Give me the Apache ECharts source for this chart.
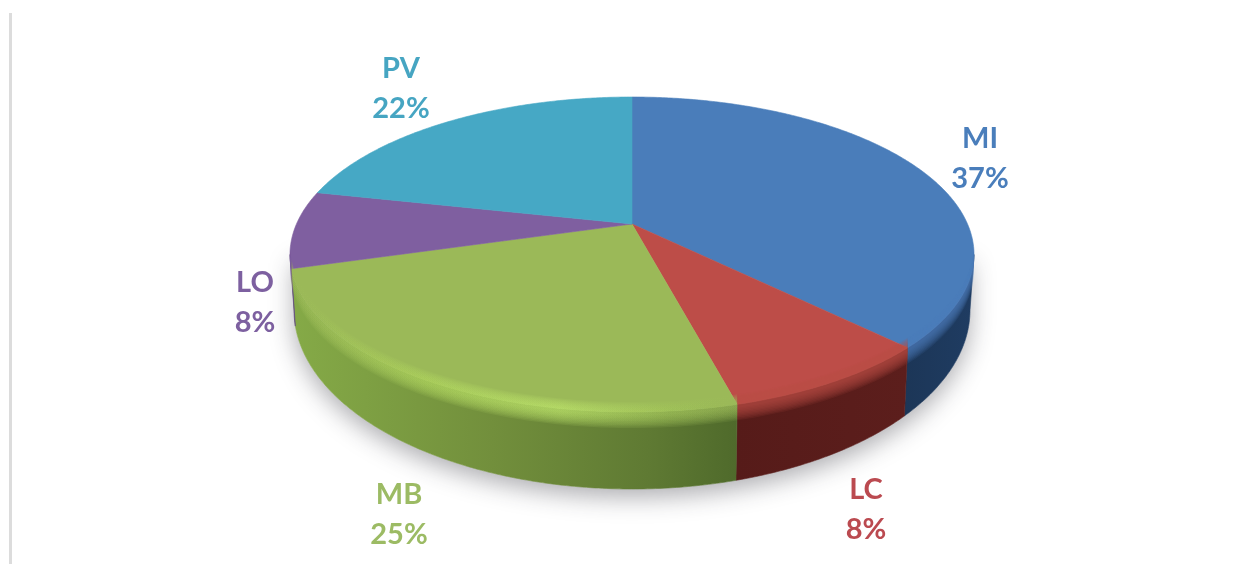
<!DOCTYPE html>
<html>
<head>
<meta charset="utf-8">
<style>
html, body { margin: 0; padding: 0; background: #fff; }
#chart { width: 1244px; height: 564px; }
</style>
<script src="https://cdn.jsdelivr.net/npm/echarts@6/dist/echarts.min.js"></script>
</head>
<body>
<div id="chart"></div>
<script>
// slices, clockwise from 12 o'clock
var names = ['MI', 'LC', 'MB', 'LO', 'PV'];
var shares = [37.45, 8.45, 24.6, 7.95, 21.55];
var topColors = ['#4a7dba', '#bd4d48', '#9bb958', '#7f5fa0', '#46a8c5'];
var textColors = ['#4a7ebb', '#bb4a50', '#9cbb64', '#7d60a0', '#46a5c2'];

// layout
var CX = 632, APEX_Y = 224;
var TOP_Y = 97, FRONT_Y = 412, HALF_W = 342;
var BASE_CY = 310, BASE_RY = 179, BASE_RX = 338;
var TOP_CY = 255;
var labelPos = [[980, 159], [866, 510], [399, 515], [255, 303], [401, 89]];

// perspective of the tilted disc
var k = (FRONT_Y + TOP_Y - 2 * APEX_Y) / (FRONT_Y - TOP_Y);
var b = APEX_Y - TOP_Y * (1 + k);
var a = HALF_W * Math.sqrt(1 - k * k);
var frontFrom = Math.acos(-k);
var frontTo = 2 * Math.PI - frontFrom;

function rim(t) {
    var w = 1 + k * Math.cos(t);
    return [CX + a * Math.sin(t) / w, (APEX_Y - b * Math.cos(t)) / w];
}

function baseRim(t) {
    var p = rim(t);
    var dx = (p[0] - CX) / HALF_W;
    var h = Math.sqrt(Math.max(0, 1 - dx * dx));
    return [CX + dx * BASE_RX, BASE_CY + BASE_RY * h];
}

function samples(from, to, fn, dy) {
    var pts = [];
    var n = Math.max(2, Math.ceil((to - from) / 0.01));
    for (var i = 0; i <= n; i++) {
        var p = fn(from + (to - from) * i / n);
        pts.push([p[0], p[1] + (dy || 0)]);
    }
    return pts;
}

var total = shares.reduce(function (s, v) { return s + v; }, 0);
var starts = [];
var run = 0;
shares.forEach(function (v) {
    starts.push(run / total * 2 * Math.PI);
    run += v;
});

function wallFill(i) {
    if (i === 0) return new echarts.graphic.LinearGradient(0, 0, 1, 0, [
        { offset: 0, color: '#1c3657' }, { offset: 1, color: '#1f3c62' }]);
    if (i === 1) return new echarts.graphic.LinearGradient(0, 0, 1, 0, [
        { offset: 0, color: '#561b19' }, { offset: 1, color: '#5c1e1c' }]);
    if (i === 2) return new echarts.graphic.LinearGradient(0, 0, 1, 0, [
        { offset: 0, color: '#85aa47' }, { offset: 0.45, color: '#728f3c' },
        { offset: 0.8, color: '#5f7a33' }, { offset: 1, color: '#4f6a2b' }]);
    return '#5f4780';
}

function edgeFill(i) {
    // the green edge catches the light in the middle and dies out to the right
    if (i === 2) return new echarts.graphic.LinearGradient(0, 0, 1, 0, [
        { offset: 0, color: '#9bb958' }, { offset: 0.3, color: '#aed35e' },
        { offset: 0.6, color: '#bce36a' }, { offset: 0.85, color: '#a2c45a' },
        { offset: 1, color: '#9bb958' }]);
    return topColors[i];
}

function renderSlice(params, api) {
    var i = params.dataIndex;
    var from = starts[i];
    var to = from + api.value(0) / total * 2 * Math.PI;
    var kids = [];

    // soft shadow under the disc, only once
    if (i === 0) {
        kids.push({
            type: 'polygon', z2: 0,
            shape: { points: samples(frontFrom, frontTo, baseRim).concat([[CX - BASE_RX, TOP_CY], [CX + BASE_RX, TOP_CY]]) },
            style: { fill: '#ffffff', shadowBlur: 24, shadowColor: 'rgba(40,40,50,0.38)', shadowOffsetY: 8 }
        });
    }

    // front wall
    var f = Math.max(from, frontFrom), t = Math.min(to, frontTo);
    if (t > f) {
        kids.push({
            type: 'polygon', z2: 1,
            shape: { points: samples(f, t, rim).concat(samples(f, t, baseRim).reverse()) },
            style: { fill: wallFill(i), stroke: wallFill(i), lineWidth: 0.6 }
        });
    }

    // top face
    kids.push({
        type: 'polygon', z2: 2,
        shape: { points: [[CX, APEX_Y]].concat(samples(from, to, rim)) },
        style: { fill: topColors[i], stroke: topColors[i], lineWidth: 0.6 }
    });

    // rounded edge, stacked thin layers
    if (t > f) {
        for (var n = 1; n <= 10; n++) {
            kids.push({
                type: 'polygon', z2: 3,
                shape: { points: samples(f, t, rim, -n * 1.1 + 1).concat(samples(f, t, rim, n * 1.4 + 2).reverse()) },
                style: { fill: edgeFill(i), opacity: 0.13 }
            });
        }
    }

    kids.push({
        type: 'text', z2: 4,
        style: {
            x: labelPos[i][0], y: labelPos[i][1],
            text: names[i] + '\n' + Math.round(api.value(0) / total * 100) + '%',
            fill: textColors[i],
            font: 'bold 29px Lato',
            lineHeight: 40,
            align: 'center',
            verticalAlign: 'middle'
        }
    });
    return { type: 'group', children: kids };
}

var chart = echarts.init(document.getElementById('chart'));
var option = {
    backgroundColor: '#ffffff',
    animation: false,
    graphic: [{
        type: 'rect',
        silent: true,
        shape: { x: 9, y: 13, width: 3, height: 551 },
        style: { fill: '#dcdcdc' }
    }],
    series: [{
        type: 'custom',
        coordinateSystem: 'none',
        silent: true,
        renderItem: renderSlice,
        data: shares.map(function (v, i) { return { name: names[i], value: [v] }; })
    }]
};
chart.setOption(option);
</script>
</body>
</html>
